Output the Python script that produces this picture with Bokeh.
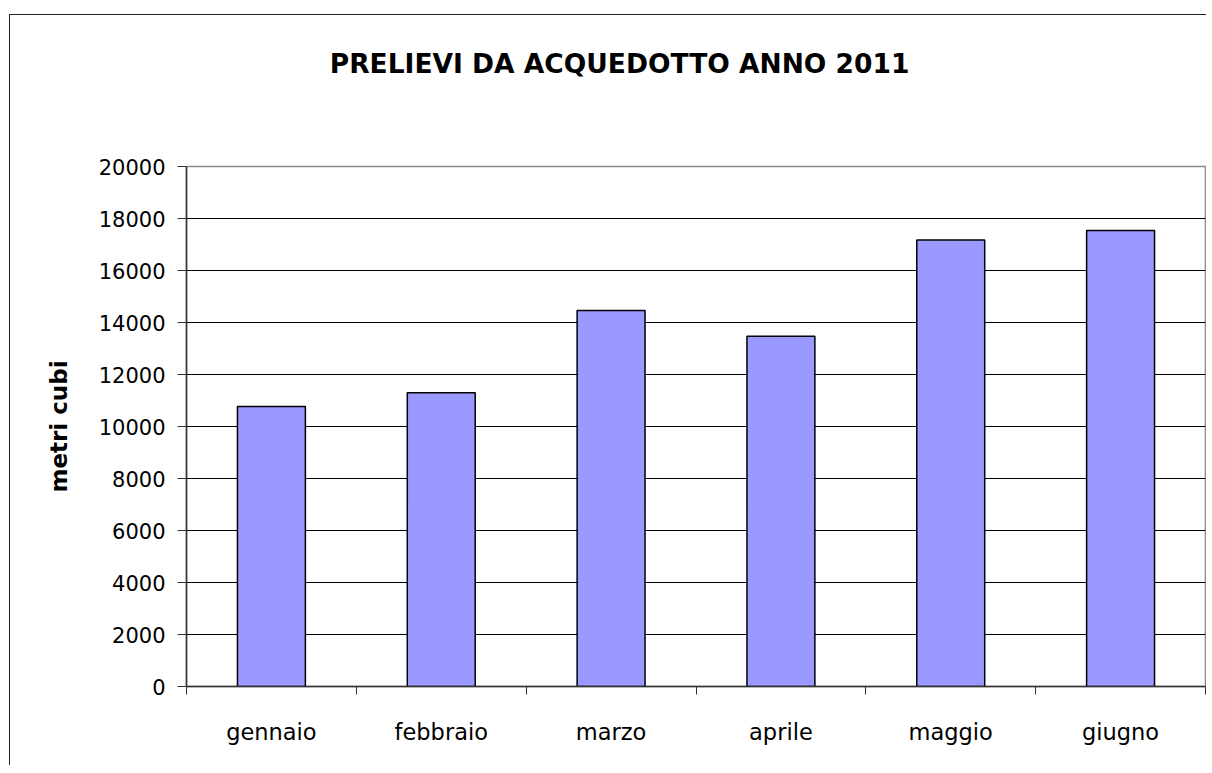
from bokeh.plotting import figure
from bokeh.models import Range1d, FixedTicker, LinearAxis
from bokeh.embed import file_html
from bokeh.resources import INLINE

months = ["gennaio", "febbraio", "marzo", "aprile", "maggio", "giugno"]
values = [10770, 11300, 14460, 13470, 17170, 17540]
y_ticks = [0, 2000, 4000, 6000, 8000, 10000, 12000, 14000, 16000, 18000, 20000]
title_text = "PRELIEVI DA ACQUEDOTTO ANNO 2011"
y_label = "metri cubi"

FONT = "DejaVu Sans"

xs = [i + 0.5 for i in range(len(months))]
boundaries = list(range(len(months) + 1))

p = figure(width=1197, height=751, output_backend="svg", toolbar_location=None,
           x_range=Range1d(0, len(months)), y_range=Range1d(y_ticks[0], y_ticks[-1]),
           min_border_left=176, min_border_top=151, min_border_right=2, min_border_bottom=80,
           margin=(14, 0, 0, 9))
p.styles = {"border-left": "1px solid #222", "border-top": "1px solid #222"}
p.background_fill_color = "white"
p.border_fill_color = "white"
p.outline_line_color = "#888888"
p.outline_line_width = 1.5

p.vbar(x=xs, top=values, width=0.4, bottom=0, fill_color="#9999FF",
       line_color="black", line_width=1.5)

# y axis
p.yaxis.ticker = FixedTicker(ticks=y_ticks)
p.yaxis.axis_label = y_label
p.yaxis.axis_label_text_font = FONT
p.yaxis.axis_label_text_font_style = "bold"
p.yaxis.axis_label_text_font_size = "23px"
p.yaxis.axis_label_text_color = "black"
p.yaxis.axis_label_standoff = 24
p.yaxis.major_label_text_font = FONT
p.yaxis.major_label_text_font_size = "21px"
p.yaxis.major_label_text_color = "black"
p.yaxis.major_label_standoff = 12
p.yaxis.major_tick_out = 9
p.yaxis.major_tick_in = 0
p.yaxis.minor_tick_line_color = None
p.yaxis.axis_line_color = "#333333"
p.yaxis.axis_line_width = 1.5
p.yaxis.major_tick_line_color = "#333333"

# x axis
p.xaxis.ticker = FixedTicker(ticks=xs, minor_ticks=boundaries)
p.xaxis.major_label_overrides = {x: m for x, m in zip(xs, months)}
p.xaxis.major_label_text_font = FONT
p.xaxis.major_label_text_font_size = "22.5px"
p.xaxis.major_label_text_color = "black"
p.xaxis.major_tick_line_color = None
p.xaxis.major_tick_out = 0
p.xaxis.major_tick_in = 0
p.xaxis.major_label_standoff = 24
p.xaxis.minor_tick_line_color = "#333333"
p.xaxis.minor_tick_out = 8
p.xaxis.minor_tick_in = 0
p.xaxis.axis_line_color = "#333333"
p.xaxis.axis_line_width = 1.5

# grids
p.xgrid.grid_line_color = None
p.ygrid.grid_line_color = "black"
p.ygrid.grid_line_width = 1

# chart title, drawn as the single label of an invisible axis above the plot area
title_pos = 2.55
title_axis = LinearAxis(ticker=FixedTicker(ticks=[title_pos], minor_ticks=[]),
                        major_label_overrides={title_pos: title_text},
                        axis_line_color=None, major_tick_line_color=None,
                        minor_tick_line_color=None, major_tick_out=0, major_tick_in=0,
                        major_label_standoff=88,
                        major_label_text_font=FONT, major_label_text_font_style="bold",
                        major_label_text_font_size="26.5px", major_label_text_color="black")
p.add_layout(title_axis, "above")

open("out.html", "w").write(file_html(p, INLINE))
